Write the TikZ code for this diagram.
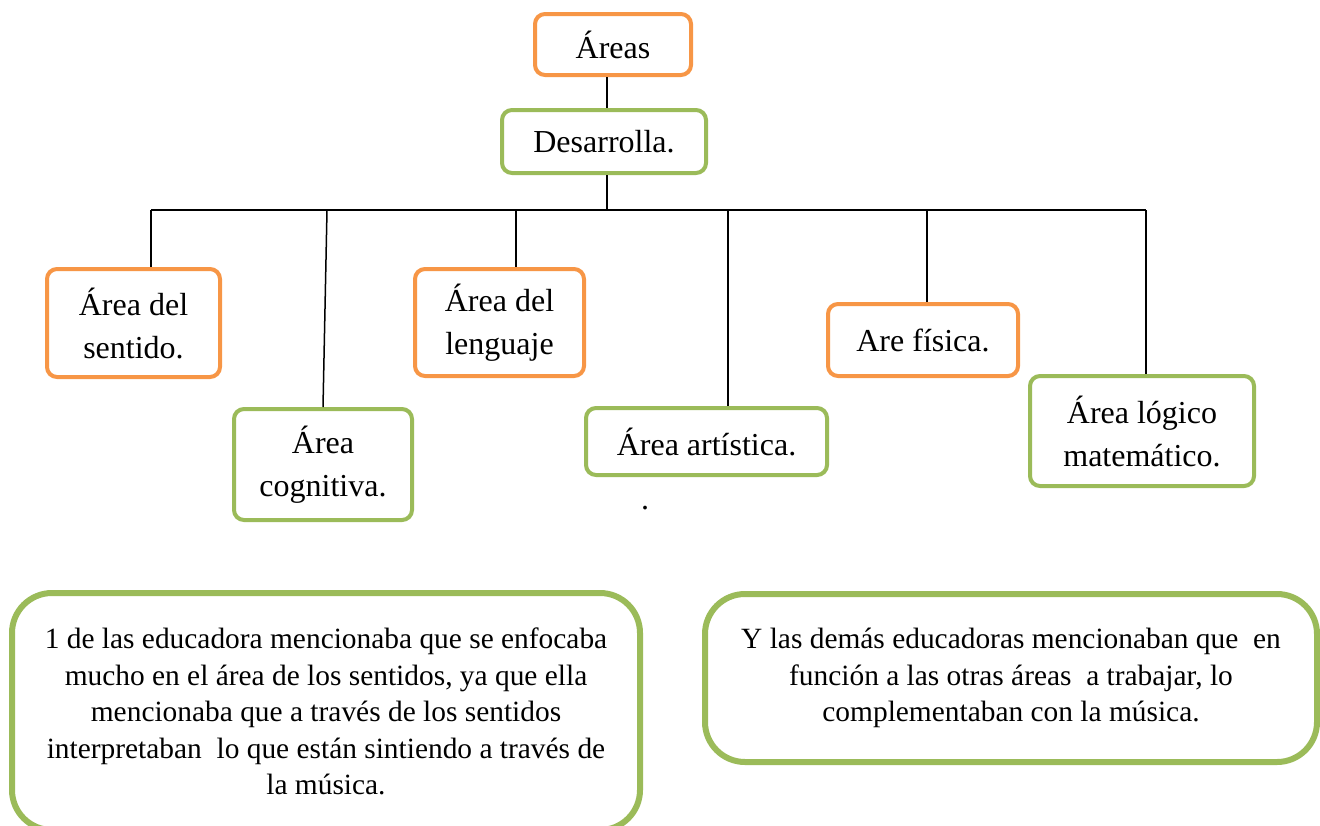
\documentclass[tikz,border=0pt]{standalone}
\usepackage{fontspec}
\setmainfont{Liberation Serif}
\usepackage{xcolor}
\usepackage{tikz}

\definecolor{boxorange}{HTML}{F79646}
\definecolor{boxgreen}{HTML}{9BBB59}

\begin{document}
\begin{tikzpicture}
		[
			x=0.5pt,y=-0.5pt,
			box/.style={draw,line width=2pt,rounded corners=5pt,fill=white,
					align=center,inner sep=0pt,font=\fontsize{16}{21.5}\selectfont},
			orangebox/.style={box,draw=boxorange},
			greenbox/.style={box,draw=boxgreen},
			note/.style={draw=boxgreen,line width=3pt,rounded corners=20pt,
					align=center,inner sep=0pt,font=\fontsize{14.7}{18.2}\selectfont},
			link/.style={draw=black,line width=0.75pt}]
		\useasboundingbox (0,0) rectangle (1320,825);
		% top of the tree
		\node[orangebox,minimum width=78pt,minimum height=30.5pt] (areas) at (613,44.5) {Áreas};
		\node[greenbox,minimum width=102pt,minimum height=31.5pt] (desarrolla) at (604,141.5) {Desarrolla.};
		% the six areas
		\node[orangebox,minimum width=86.5pt,minimum height=54pt] (sentido) at (133.5,323) {Área del\\sentido.};
		\node[greenbox,minimum width=89pt,minimum height=55.5pt] (cognitiva) at (323,464.5) {Área\\cognitiva.};
		\node[orangebox,minimum width=84.5pt,minimum height=53.5pt] (lenguaje) at (499.5,322.5) {Área del\\lenguaje};
		\node[greenbox,minimum width=120.5pt,minimum height=33.5pt] (artistica) at (706.5,441.5) {Área artística.};
		\node[orangebox,minimum width=95pt,minimum height=36pt] (fisica) at (923,340) {Are física.};
		\node[greenbox,minimum width=112pt,minimum height=55pt] (logico) at (1142,431) {Área lógico\\matemático.};
		\node[font=\fontsize{16}{18.4}\selectfont] (punto) at (645,508) {.};
		% comments of the educators
		\node[note,minimum width=314pt,minimum height=118.5pt] (nota1) at (326,711.5)
		{1 de las educadora mencionaba que se enfocaba\\
			mucho en el área de los sentidos, ya que ella\\
			mencionaba que a través de los sentidos\\
			interpretaban\ \ lo que están sintiendo a través de\\
			la música.};
		\node[note,minimum width=306pt,minimum height=84pt] (nota2) at (1011,678)
		{Y las demás educadoras mencionaban que\ \ en\\
			función a las otras áreas\ \ a trabajar, lo\\
			complementaban con la música.};
		% connectors
		\coordinate (trunk) at (607,210);
		\foreach \name/\x in {sentido/151,cognitiva/327,lenguaje/516,artistica/728,fisica/927,logico/1146}
			\coordinate (bus-\name) at (\x,210);
		\draw[link] (trunk |- areas.south) -- (trunk |- desarrolla.north);
		\draw[link] (trunk |- desarrolla.south) -- (trunk);
		\draw[link] (bus-sentido) -- (bus-logico);
		\foreach \name in {sentido,lenguaje,artistica,fisica,logico}
			\draw[link] (bus-\name) -- (bus-\name |- \name.north);
		\draw[link] (bus-cognitiva) -- (cognitiva.north);
	\end{tikzpicture}
\end{document}
